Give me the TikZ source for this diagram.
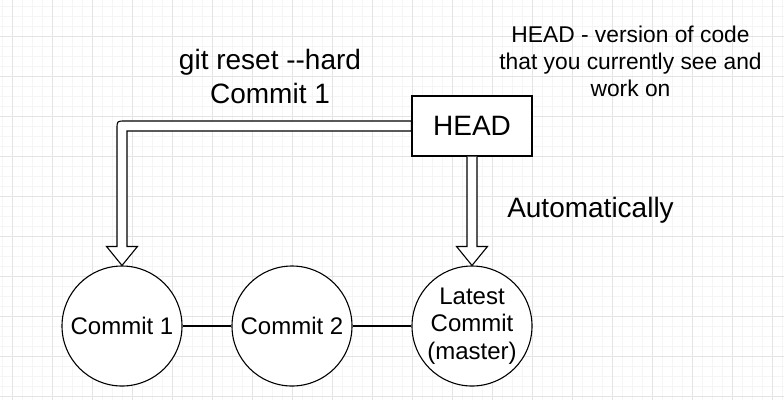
\documentclass[tikz,border=0pt]{standalone}
\usepackage{fontspec}
\setmainfont{Liberation Sans}
\usetikzlibrary{calc}
\definecolor{gridminor}{RGB}{245,245,245}
\definecolor{gridmajor}{RGB}{228,228,228}
\tikzset{
  minorline/.style={draw=gridminor,line width=1pt},
  majorline/.style={draw=gridmajor,line width=1pt},
  commit/.style={circle,draw=black,fill=white,line width=1.1pt,minimum size=120pt,inner sep=0pt,align=center,font=\fontsize{24}{27.5}\selectfont},
  headbox/.style={rectangle,draw=black,fill=white,line width=1.1pt,minimum width=120pt,minimum height=60pt,inner sep=0pt,font=\fontsize{28}{34}\selectfont},
  biglabel/.style={inner sep=0pt,align=center,font=\fontsize{28}{34}\selectfont},
  notelabel/.style={inner sep=0pt,align=center,font=\fontsize{22.8}{26.7}\selectfont},
  flexarrow/.style={draw=black,fill=white,line width=1.1pt,line join=miter},
  link/.style={draw=black,line width=1.1pt}
}
\begin{document}
\begin{tikzpicture}[x=1pt,y=-1pt]
\useasboundingbox (0,0) rectangle (784,400);
\fill[white] (0,0) rectangle (784,400);
% grid
\foreach \gx in {2,12,...,782} {\draw[minorline] (\gx,0) -- (\gx,400);}
\foreach \gy in {6,16,...,396} {\draw[minorline] (0,\gy) -- (784,\gy);}
\foreach \gx in {12,52,...,772} {\draw[majorline] (\gx,0) -- (\gx,400);}
\foreach \gy in {36,76,...,396} {\draw[majorline] (0,\gy) -- (784,\gy);}

% nodes
\node[headbox] (head) at (472,126) {HEAD};
\node[commit] (c1) at (122,326) {Commit 1};
\node[commit] (c2) at (292,326) {Commit 2};
\node[commit] (c3) at (472,326) {Latest\\Commit\\(master)};

% links between commits
\draw[link] (c1.east) -- (c2.west);
\draw[link] (c2.east) -- (c3.west);

% left flex arrow: HEAD -> Commit 1
\coordinate (Lc) at ($(c1.north |- head.west)+(-5,-5)$);
\filldraw[flexarrow]
  ($(head.west)+(0,-5)$) -- ($(Lc)+(8,0)$) .. controls (Lc) .. ($(Lc)+(0,8)$)
  -- ($(c1.north)+(-5,-19)$) -- ($(c1.north)+(-15.5,-19)$) -- (c1.north)
  -- ($(c1.north)+(15.5,-19)$) -- ($(c1.north)+(5,-19)$)
  -- ($(c1.north |- head.west)+(5,5)$) -- ($(head.west)+(0,5)$) -- cycle;

% down flex arrow: HEAD -> Latest Commit
\filldraw[flexarrow]
  ($(c3.north |- head.south)+(-5,0)$) -- ($(c3.north)+(-5,-19)$) -- ($(c3.north)+(-15.5,-19)$)
  -- (c3.north) -- ($(c3.north)+(15.5,-19)$) -- ($(c3.north)+(5,-19)$)
  -- ($(c3.north |- head.south)+(5,0)$);

% labels
\node[biglabel,anchor=north] (reset) at (270,49) {git reset -{}-hard\\Commit 1};
\node[biglabel,anchor=base] (auto) at (590.5,217) {Automatically};
\node[notelabel,anchor=north] (note) at (630.5,26.2) {HEAD - version of code\\that you currently see and\\work on};
\end{tikzpicture}
\end{document}
